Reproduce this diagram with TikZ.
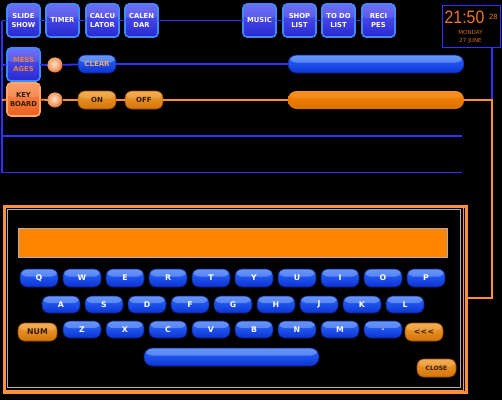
\documentclass[tikz,border=0pt]{standalone}
\usepackage{fontspec}
\setmainfont{DejaVu Sans}
\newfontfamily\clockfont{Liberation Sans}
\usetikzlibrary{shapes.misc}
\definecolor{bline}{RGB}{48,48,255}
\definecolor{oline}{RGB}{255,145,50}
\definecolor{btntop}{RGB}{90,90,248}
\definecolor{btnbot}{RGB}{40,40,210}
\definecolor{btnborder}{RGB}{60,140,255}
\definecolor{kbtop}{RGB}{252,145,85}
\definecolor{kbbot}{RGB}{235,95,30}
\definecolor{kbborder}{RGB}{255,165,110}
\definecolor{keytop}{RGB}{40,110,255}
\definecolor{keybot}{RGB}{15,50,210}
\definecolor{keyborder}{RGB}{10,30,120}
\definecolor{pilltop}{RGB}{245,160,50}
\definecolor{pillbot}{RGB}{210,115,10}
\definecolor{pillborder}{RGB}{150,80,10}
\definecolor{field}{RGB}{255,132,0}
\definecolor{grayline}{RGB}{175,175,175}
\definecolor{msgtext}{RGB}{235,130,60}
\definecolor{cleartext}{RGB}{235,165,110}
\definecolor{darktext}{RGB}{50,25,5}
\definecolor{clocktext}{RGB}{240,120,30}
\definecolor{clockdim}{RGB}{205,110,40}
\definecolor{ballout}{RGB}{238,130,65}
\definecolor{ballin}{RGB}{255,225,200}
\begin{document}
\begin{tikzpicture}[x=1pt,y=-1pt,
  gloss/.style={path picture={\fill[white,opacity=#1] (path picture bounding box.north west) rectangle ([yshift=-0.42*\pgfkeysvalueof{/pgf/minimum height}]path picture bounding box.north east);}},
  appbtn/.style={draw=btnborder, line width=1.6pt, rounded corners=4pt, top color=btntop, bottom color=btnbot,
    minimum width=33pt, minimum height=33pt, inner sep=0pt, outer sep=0pt, anchor=north west,
    font=\bfseries\fontsize{6.8}{9}\selectfont, text=white, align=center, gloss=0.12},
  kbbtn/.style={appbtn, draw=kbborder, top color=kbtop, bottom color=kbbot, text=darktext},
  keybtn/.style={draw=keyborder, line width=0.6pt, rounded corners=7pt, top color=keytop, bottom color=keybot,
    minimum width=38pt, minimum height=18pt, inner sep=0pt, outer sep=0pt, anchor=north west,
    font=\bfseries\fontsize{7.8}{8}\selectfont, text=white, gloss=0.28},
  pill/.style={keybtn, draw=pillborder, top color=pilltop, bottom color=pillbot, text=darktext, gloss=0.15},
  dot/.style={circle, minimum size=15pt, inner sep=0pt, outer sep=0pt, fill=ballout,
    path picture={\shade[inner color=ballin, outer color=ballout] ([xshift=-1.5pt,yshift=2pt]path picture bounding box.center) circle (8pt);}},
  bl/.style={draw=bline, line width=1.8pt},
  ol/.style={draw=oline, line width=1.8pt}]
\fill[black] (0,0) rectangle (502,400);
\useasboundingbox (0,0) rectangle (502,400);

% top row
\node[appbtn] (slide) at (7,4) {SLIDE\\SHOW};
\node[appbtn] (timer) at (46,4) {TIMER};
\node[appbtn] (calc) at (86,4) {CALCU\\LATOR};
\node[appbtn] (calen) at (125,4) {CALEN\\DAR};
\node[appbtn] (music) at (243,4) {MUSIC};
\node[appbtn] (shop) at (283,4) {SHOP\\LIST};
\node[appbtn] (todo) at (322,4) {TO DO\\LIST};
\node[appbtn] (recipes) at (362,4) {RECI\\PES};

% clock
\node[draw=bline, line width=1.8pt, fill=black, minimum width=58pt, minimum height=42pt, anchor=north west, inner sep=0pt] (clock) at (441.5,4.5) {};
\node[font=\clockfont\fontsize{18}{18}\selectfont, text=clocktext, inner sep=0pt, anchor=west, xscale=0.88] (time) at (444.5,17.5) {21:50};
\node[font=\clockfont\fontsize{7.5}{8}\selectfont, text=clocktext, inner sep=0pt, anchor=west] (sec) at (489,16.5) {28};
\node[font=\fontsize{5.6}{6}\selectfont, text=clockdim, inner sep=0pt] (day) at (470.5,32) {MONDAY};
\node[font=\fontsize{5.6}{6}\selectfont, text=clockdim, inner sep=0pt] (date) at (470.5,41) {27\,\,JUNE};

% second column
\node[appbtn, text=msgtext] (messages) at (7,48) {MESS\\AGES};
\node[kbbtn] (keyboard) at (7,83) {KEY\\BOARD};
\node[dot] (mdot) at (55,65) {};
\node[dot] (kdot) at (55,100) {};
\node[keybtn, text=cleartext, font=\bfseries\fontsize{7}{8}\selectfont] (clear) at (78,55) {CLEAR};
\node[pill, font=\bfseries\fontsize{7}{8}\selectfont] (on) at (78,91) {ON};
\node[pill, font=\bfseries\fontsize{7}{8}\selectfont] (off) at (125,91) {OFF};
\node[keybtn, minimum width=176pt, rounded corners=8.5pt] (bluebar) at (288,55) {};
\node[pill, minimum width=176pt, rounded corners=8.5pt, draw=none, top color=field, bottom color=field!85!black, gloss=0.1] (orangebar) at (288,91) {};

% connectors
\coordinate (lt) at (2,20.5);
\coordinate (lb) at (2,172.5);
\coordinate (lm) at (2,65);
\coordinate (lk) at (2,100);
\coordinate (rt) at (492,47);
\coordinate (rc) at (492,100);
\coordinate (rb) at (492,298);
\coordinate (fr) at (465,298);
\coordinate (h1a) at (2,136);
\coordinate (h1b) at (462,136);
\coordinate (h2b) at (462,172.5);

\path[bl] (lt) -- (lb) -- (h2b);
\path[bl] (h1a) -- (h1b);
\path[bl] (lt) -- (slide.west);
\path[bl] (slide) -- (timer);
\path[bl] (timer) -- (calc);
\path[bl] (calc) -- (calen);
\path[bl] (calen) -- (music);
\path[bl] (music) -- (shop);
\path[bl] (shop) -- (todo);
\path[bl] (todo) -- (recipes);
\path[bl] (lm) -- (messages.west);
\path[bl] (messages) -- (mdot);
\path[bl] (mdot) -- (clear);
\path[bl] (clear) -- (bluebar);
\path[bl] (rt) -- (rc);
\path[ol] (lk) -- (keyboard.west);
\path[ol] (keyboard) -- (kdot);
\path[ol] (kdot) -- (on);
\path[ol] (on) -- (off);
\path[ol] (off) -- (orangebar);
\path[ol] (orangebar.east) -- (rc) -- (rb) -- (fr);

% keyboard frame
\node[draw=oline, line width=3pt, minimum width=462pt, minimum height=186pt, anchor=north west, inner sep=0pt] (frame) at (2.5,205) {};
\node[draw=kbtop, line width=0.5pt, minimum width=459pt, minimum height=183pt, anchor=north west, inner sep=0pt] (frameh) at (4,206.5) {};
\node[draw=grayline, line width=1pt, minimum width=453pt, minimum height=178pt, anchor=north west, inner sep=0pt] (inner) at (6.5,209) {};
\node[draw=grayline, line width=0.8pt, fill=field, minimum width=429pt, minimum height=29pt, anchor=north west, inner sep=0pt] (textfield) at (18,228) {};

% keys
\foreach \k [count=\i from 0] in {Q,W,E,R,T,Y,U,I,O,P}
  \node[keybtn] (key\k) at (20+43*\i,269) {\k};
\foreach \k [count=\i from 0] in {A,S,D,F,G,H,J,K,L}
  \node[keybtn, minimum height=17pt] (key\k) at (42+43*\i,296) {\k};
\foreach \k [count=\i from 0] in {Z,X,C,V,B,N,M}
  \node[keybtn, minimum height=17pt] (key\k) at (63+43*\i,321) {\k};
\node[keybtn, minimum height=17pt] (keydot) at (364,321) {.};
\node[pill, minimum width=39pt] (num) at (18,323) {NUM};
\node[pill] (back) at (405,323) {\textless\kern0.4pt\textless\kern0.4pt\textless};
\node[keybtn, minimum width=175pt, rounded corners=8.5pt] (space) at (144,348) {};
\node[pill, minimum width=39pt, font=\bfseries\fontsize{6}{7}\selectfont] (close) at (417,359) {CLOSE};
\end{tikzpicture}
\end{document}
